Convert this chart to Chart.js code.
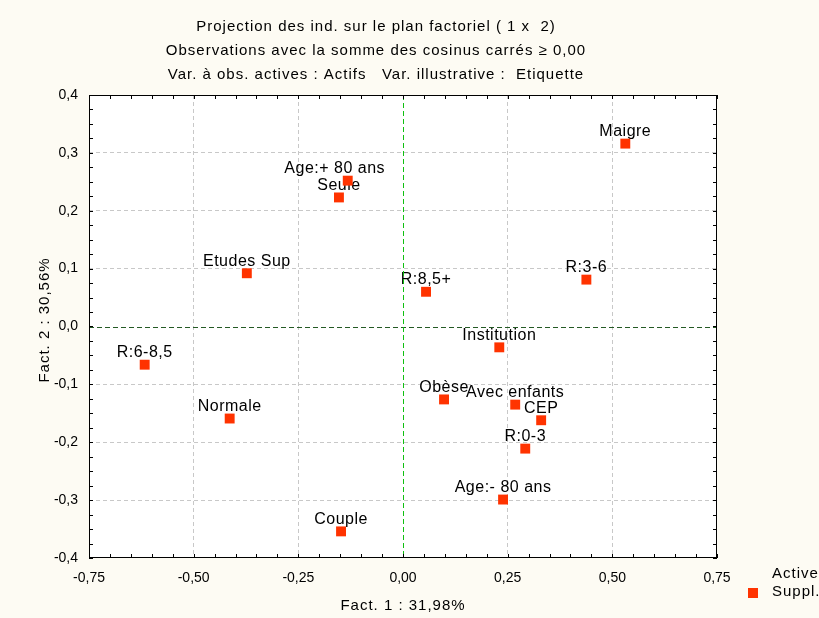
<!DOCTYPE html>
<html>
<head>
<meta charset="utf-8">
<script src="https://cdn.jsdelivr.net/npm/chart.js@4/dist/chart.umd.min.js"></script>
<style>
  body { margin: 0; background: #fdfbf3; }
  canvas { display: block; }
</style>
</head>
<body>
<canvas class="myChart" width="819" height="618"></canvas>
<script>
const labels = ["Maigre", "Age:+ 80 ans", "Seule", "Etudes Sup", "R:8,5+", "R:3-6", "Institution", "R:6-8,5", "Obèse", "Avec enfants", "CEP", "Normale", "R:0-3", "Age:- 80 ans", "Couple"];
const fact1 = [0.531, -0.132, -0.153, -0.373, 0.055, 0.438, 0.230, -0.617, 0.098, 0.268, 0.330, -0.414, 0.292, 0.239, -0.148];
const fact2 = [0.316, 0.252, 0.223, 0.092, 0.060, 0.081, -0.036, -0.066, -0.126, -0.135, -0.162, -0.159, -0.211, -0.299, -0.354];
const xTicks = [-0.75, -0.5, -0.25, 0, 0.25, 0.5, 0.75];
const yTicks = [-0.4, -0.3, -0.2, -0.1, 0, 0.1, 0.2, 0.3, 0.4];
const titleLines = [
  "Projection des ind. sur le plan factoriel ( 1 x  2)",
  "Observations avec la somme des cosinus carrés ≥ 0,00",
  "Var. à obs. actives : Actifs   Var. illustrative :  Etiquette"
];

const FONT = "'Liberation Sans', Arial, sans-serif";
const RED = "#ff3300";

function fmt(v, d) {
  if (Math.abs(v) < 1e-9) v = 0;
  return v.toFixed(d).replace(".", ",");
}

const points = fact1.map((x, i) => ({ x: x, y: fact2[i] }));

// cadre, ticks mineurs, lignes zero, textes
const decor = {
  id: "decor",
  beforeDraw(chart) {
    const { ctx, chartArea: a } = chart;
    ctx.save();
    ctx.fillStyle = "#fdfbf3";
    ctx.fillRect(0, 0, chart.width, chart.height);
    ctx.fillStyle = "#ffffff";
    ctx.fillRect(a.left, a.top, a.right - a.left, a.bottom - a.top);
    ctx.restore();
  },
  beforeDatasetsDraw(chart) {
    const { ctx } = chart;
    ctx.save();
    // etiquettes des points (sous les marqueurs)
    ctx.fillStyle = "#000";
    ctx.font = "16px " + FONT;
    ctx.letterSpacing = "0.5px";
    ctx.textAlign = "center";
    ctx.textBaseline = "middle";
    const meta = chart.getDatasetMeta(0);
    meta.data.forEach((pt, i) => {
      const dx = labels[i] === "Age:+ 80 ans" ? -13 : 0;
      ctx.fillText(labels[i], pt.x + dx, pt.y - 12);
    });
    ctx.restore();
  },
  afterDraw(chart) {
    const { ctx, chartArea: a, scales } = chart;
    const sx = scales.x, sy = scales.y;
    ctx.save();
    // lignes zero
    ctx.setLineDash([5, 3]);
    ctx.lineWidth = 1;
    ctx.strokeStyle = "#245a24";
    const y0 = Math.round(sy.getPixelForValue(0)) + 0.5;
    ctx.beginPath(); ctx.moveTo(a.left, y0); ctx.lineTo(a.right, y0); ctx.stroke();
    ctx.strokeStyle = "#10c010";
    const x0 = Math.round(sx.getPixelForValue(0)) + 0.5;
    ctx.beginPath(); ctx.moveTo(x0, a.top); ctx.lineTo(x0, a.bottom); ctx.stroke();
    ctx.setLineDash([]);

    ctx.strokeStyle = "#000";
    ctx.strokeRect(a.left + 0.5, a.top + 0.5, a.right - a.left - 1, a.bottom - a.top - 1);
    ctx.beginPath();
    for (let v = -0.75; v <= 0.7501; v += 0.05) {
      const px = Math.round(sx.getPixelForValue(v)) + 0.5;
      ctx.moveTo(px, a.bottom); ctx.lineTo(px, a.bottom - 4);
      ctx.moveTo(px, a.top); ctx.lineTo(px, a.top + 4);
    }
    for (let v = -0.4; v <= 0.4001; v += 0.025) {
      const py = Math.round(sy.getPixelForValue(v)) + 0.5;
      ctx.moveTo(a.left, py); ctx.lineTo(a.left + 4, py);
      ctx.moveTo(a.right, py); ctx.lineTo(a.right - 4, py);
    }
    ctx.stroke();

    // titre
    ctx.fillStyle = "#000";
    ctx.font = "15px " + FONT;
    ctx.letterSpacing = "1px";
    ctx.textAlign = "center";
    ctx.textBaseline = "middle";
    titleLines.forEach((t, i) => ctx.fillText(t, 376, 27 + i * 24));

    // titres des axes
    ctx.fillText("Fact. 1 : 31,98%", (a.left + a.right) / 2, 606);
    ctx.save();
    ctx.translate(45, 320);
    ctx.rotate(-Math.PI / 2);
    ctx.fillText("Fact. 2 : 30,56%", 0, 0);
    ctx.restore();

    // legende
    ctx.textAlign = "left";
    ctx.fillText("Active", 772, 574);
    ctx.fillText("Suppl.", 772, 592);
    ctx.fillStyle = RED;
    ctx.fillRect(748, 588, 10, 10);
    ctx.restore();
  }
};

const ctx = document.querySelector(".myChart").getContext("2d");
const myChart = new Chart(ctx, {
  type: "scatter",
  data: {
    datasets: [
      {
        label: "Suppl.",
        data: points,
        pointStyle: "rect",
        pointRadius: 7,
        pointHoverRadius: 7,
        backgroundColor: RED,
        borderWidth: 0,
      },
    ],
  },
  options: {
    responsive: false,
    animation: false,
    layout: { padding: { left: 0, right: 102, top: 95, bottom: 0 } },
    plugins: {
      legend: { display: false },
      title: { display: false },
      tooltip: { enabled: false },
    },
    scales: {
      x: {
        type: "linear",
        min: -0.75,
        max: 0.75,
        afterBuildTicks: (s) => { s.ticks = xTicks.map((v) => ({ value: v })); },
        afterFit: (s) => { s.height = 60; },
        border: { display: false, dash: [4, 3] },
        grid: {
          drawTicks: false,
          color: (c) => (Math.abs(c.tick.value) < 1e-9 || Math.abs(Math.abs(c.tick.value) - 0.75) < 1e-9 ? "rgba(0,0,0,0)" : "#c8c8c8"),
        },
        ticks: {
          padding: 12,
          color: "#000",
          font: { family: FONT, size: 14 },
          maxRotation: 0,
          callback: (v) => fmt(v, 2),
        },
      },
      y: {
        type: "linear",
        min: -0.4,
        max: 0.4,
        afterBuildTicks: (s) => { s.ticks = yTicks.map((v) => ({ value: v })); },
        afterFit: (s) => { s.width = 89; },
        border: { display: false, dash: [4, 3] },
        grid: {
          drawTicks: false,
          color: (c) => (Math.abs(c.tick.value) < 1e-9 || Math.abs(Math.abs(c.tick.value) - 0.4) < 1e-9 ? "rgba(0,0,0,0)" : "#c8c8c8"),
        },
        ticks: {
          padding: 11,
          color: "#000",
          font: { family: FONT, size: 14 },
          callback: (v) => fmt(v, 1),
        },
      },
    },
  },
  plugins: [decor],
});
</script>
</body>
</html>
